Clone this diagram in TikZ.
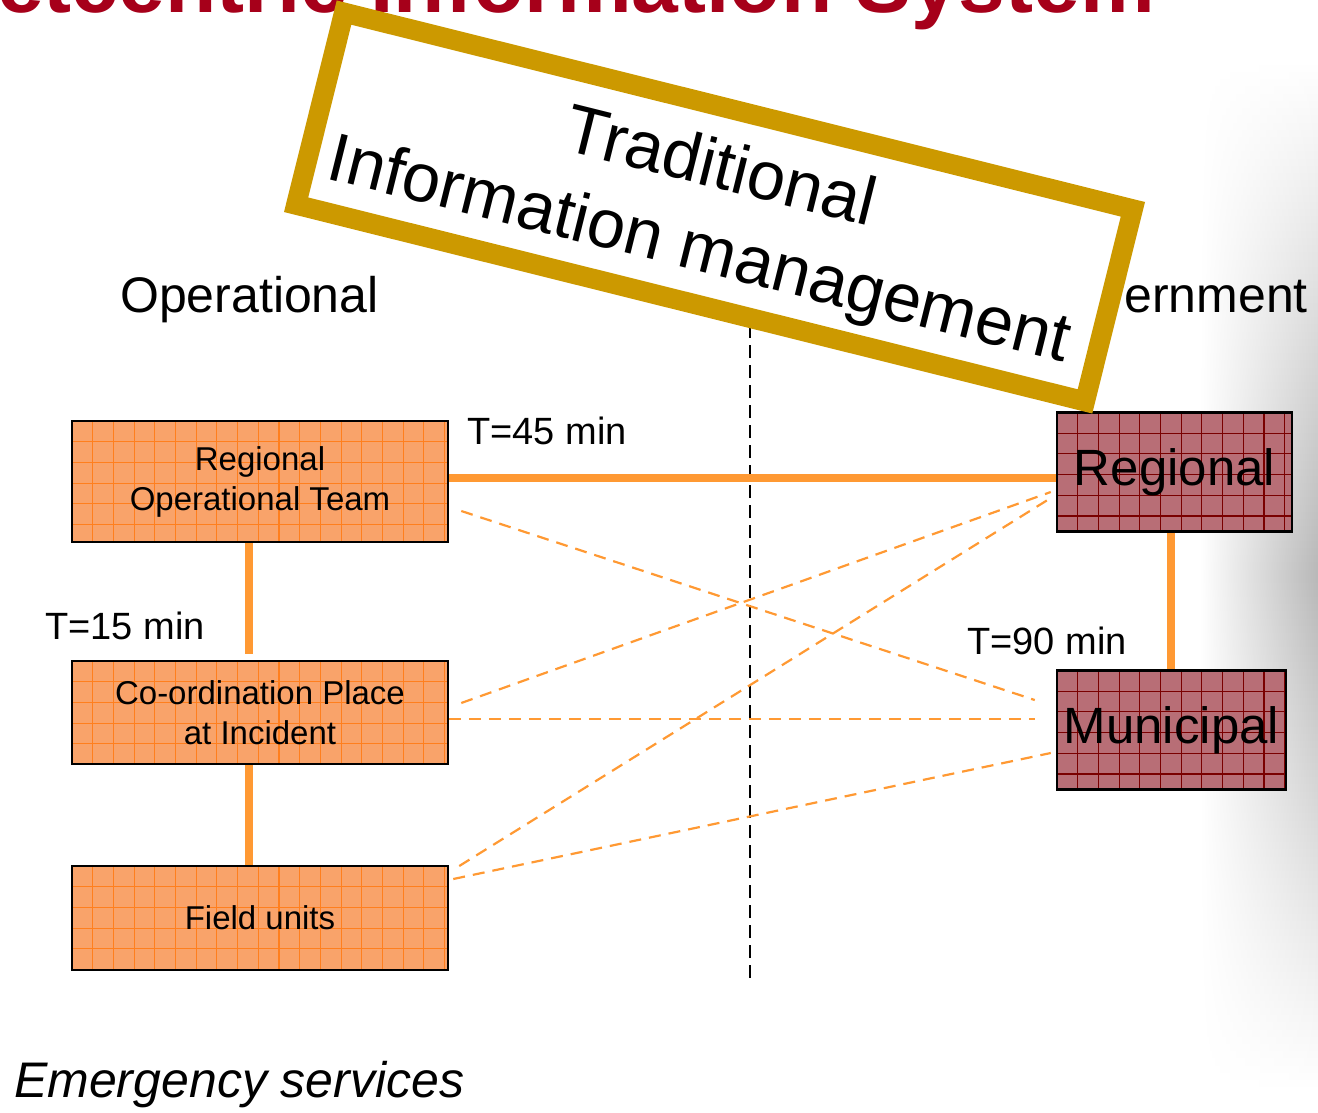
\documentclass[tikz,border=0pt]{standalone}
\usepackage{fontspec}
\setmainfont{Liberation Sans}
\usetikzlibrary{calc,fadings}
\definecolor{titlered}{HTML}{A6001A}
\definecolor{gold}{HTML}{CC9900}
\definecolor{orline}{HTML}{FF9933}
\definecolor{orfill}{HTML}{F9A36A}
\definecolor{orgrid}{HTML}{FF7F1E}
\definecolor{rdfill}{HTML}{B86E76}
\definecolor{rdgrid}{HTML}{7A0000}
\newcommand{\fsz}[2]{\fontsize{#1}{#2}\selectfont}
\tikzset{
  gridded/.style={path picture={
    \foreach \k in {1,...,20}{\draw[#1, line width=1.1pt] ([xshift=\k*20.7pt]path picture bounding box.north west) -- ([xshift=\k*20.7pt]path picture bounding box.south west);}
    \foreach \k in {1,...,6}{\draw[#1, line width=1.1pt] ([yshift=-\k*20.7pt]path picture bounding box.north west) -- ([yshift=-\k*20.7pt]path picture bounding box.north east);}
  }},
  opbox/.style={draw=black, line width=2.5pt, fill=orfill, gridded=orgrid, minimum width=376pt, inner sep=0pt, align=center, font=\fsz{33}{40}},
  govbox/.style={draw=black, line width=2.5pt, fill=rdfill, gridded=rdgrid, minimum height=119pt, inner sep=0pt, font=\fsz{51}{51}},
  thickor/.style={draw=orline, line width=8pt},
  dashor/.style={draw=orline, line width=2.2pt, dash pattern=on 12pt off 8pt},
  dashblk/.style={draw=black, line width=2.4pt, dash pattern=on 13pt off 7pt},
  lbl/.style={inner sep=0pt, anchor=base west, font=\fsz{38}{38}},
  head/.style={inner sep=0pt, font=\fsz{50}{50}}
}
\begin{document}
\begin{tikzpicture}[x=1pt, y=-1pt]
\clip (0,0) rectangle (1318,1112);
\useasboundingbox (0,0) rectangle (1318,1112);
% faded photo on the right
\shade[top color=white, bottom color=white, middle color=black!28, path fading=west] (1200,60) rectangle (1318,1090);
% title
\node[anchor=base east, inner sep=0pt, font=\bfseries\fsz{84}{84}, text=titlered] (title) at (1155,12) {Netcentric Information System};
% headings
\node[head, anchor=base west] (hop) at (120,312) {Operational};
\node[head, anchor=base east] (hgov) at (1308,312) {Government};
\node[head, anchor=base west, font=\itshape\fsz{50}{50}] (hem) at (14,1097) {Emergency services};
% divider
\coordinate (dtop) at (750,325);
\coordinate (dbot) at (750,985);
\draw[dashblk] (dtop) -- (dbot);
% boxes
\node[opbox, minimum height=121pt] (rot) at (260,481.5) {Regional\\Operational Team};
\node[opbox, minimum height=103pt] (coord) at (260,712.5) {Co-ordination Place\\at Incident};
\node[opbox, minimum height=104pt] (field) at (260,918) {Field units};
\node[govbox, minimum width=235pt] (greg) at (1174.5,472) {Regional};
\node[govbox, minimum width=229pt] (mun) at (1171.5,730) {Municipal};
% dashed connectors
\draw[dashor] ($(rot.east)+(12,29.5)$) -- ($(mun.west)+(-21,-30)$);
\draw[dashor] ($(coord.east)+(12,-9.5)$) -- ($(greg.west)+(-5,20)$);
\draw[dashor] ($(coord.east)+(0,6.5)$) -- ($(mun.west)+(-21,-11)$);
\draw[dashor] ($(field.east)+(10,-52)$) -- ($(greg.west)+(-5,26)$);
\draw[dashor] ($(field.east)+(4,-39)$) -- ($(mun.west)+(-5,23)$);
% solid connectors
\draw[thickor] ([yshift=4pt]rot.east) -- ([yshift=4pt]rot.east -| greg.west);
\draw[thickor, shorten >=6pt] ([xshift=-11pt]rot.south) -- ([xshift=-11pt]rot.south |- coord.north);
\draw[thickor] ([xshift=-11pt]coord.south) -- ([xshift=-11pt]coord.south |- field.north);
\draw[thickor] ([xshift=-3.5pt]greg.south) -- ([xshift=-3.5pt]greg.south |- mun.north);
% time labels
\node[lbl] (t45) at (467,444) {T=45 min};
\node[lbl] (t15) at (45,639) {T=15 min};
\node[lbl] (t90) at (967,654) {T=90 min};
% frame
\node[draw=gold, line width=20pt, fill=white, rotate=-14, minimum width=813pt, minimum height=198pt, inner sep=0pt] (frame) at (714.5,207) {};
\node[rotate=-14, inner sep=0pt, align=center, font=\fsz{68.5}{85}] (ftext) at (709,212) {Traditional\\Information management};
\end{tikzpicture}
\end{document}
